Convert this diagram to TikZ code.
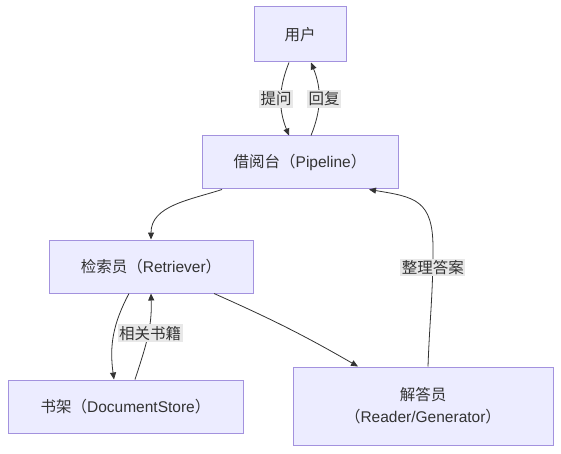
\documentclass[tikz,border=0pt]{standalone}
\usepackage{fontspec}
\setmainfont{Liberation Sans}
\newfontfamily\cjkf{Noto Sans CJK SC}
\usetikzlibrary{arrows.meta}
\definecolor{boxfill}{HTML}{ECECFF}
\definecolor{boxline}{HTML}{A392DE}
\definecolor{edgecol}{HTML}{333333}
\definecolor{lblfill}{HTML}{E8E8E8}
\tikzset{
  box/.style={draw=boxline, fill=boxfill, line width=1pt, rectangle, inner sep=0pt,
    font=\fontsize{15.5}{20}\selectfont, text=edgecol, align=center},
  edge/.style={draw=edgecol, line width=0.8pt, -{Triangle[length=7pt,width=6pt]}},
  lbl/.style={fill=lblfill, inner sep=1.5pt, font=\fontsize{15.5}{18}\selectfont\cjkf, text=edgecol}
}
\begin{document}
\begin{tikzpicture}[x=1pt,y=1pt]
\useasboundingbox (0,0) rectangle (561,-454);
\node[box, minimum width=92, minimum height=55] (u) at (300,-34.5) {{\cjkf 用户}};
\node[box, minimum width=196, minimum height=53] (p) at (300,-162.5) {{\cjkf 借阅台（}Pipeline{\cjkf ）}};
\node[box, minimum width=204, minimum height=53] (r) at (151,-266.5) {{\cjkf 检索员（}Retriever{\cjkf ）}};
\node[box, minimum width=235, minimum height=53] (s) at (125.5,-406.5) {{\cjkf 书架（}DocumentStore{\cjkf ）}};
\node[box, minimum width=260, minimum height=78] (g) at (423,-406) {{\cjkf 解答员}\\[2pt]{\cjkf （}Reader/Generator{\cjkf ）}};
\coordinate (bend) at (433,-248);

\draw[edge] ([xshift=-11pt]u.south) to[out=-112,in=112]
  node[lbl, pos=0.5, xshift=-5pt] {提问} ([xshift=-11pt]p.north);
\draw[edge] ([xshift=11pt]p.north) to[out=68,in=-68]
  node[lbl, pos=0.5, xshift=5pt] {回复} ([xshift=11pt]u.south);
\draw[edge] ([xshift=-78pt]p.south) to[out=-162,in=90] (r.north);
\draw[edge] ([xshift=-22pt]r.south) to[out=-118,in=98] ([xshift=-11.5pt]s.north);
\draw[edge] ([xshift=9.5pt]s.north) to[out=72,in=-88]
  node[lbl, pos=0.55, xshift=2pt] {相关书籍} (r.north |- r.south);
\draw[edge] ([xshift=63pt]r.south) to[out=-24,in=150] ([xshift=-65pt]g.north);
\draw[edge] ([xshift=5pt]g.north) to[out=88,in=-90]
  node[lbl, pos=0.85] {整理答案} (bend)
  .. controls (433,-200) and (415,-197) .. ([xshift=69pt]p.south);
\end{tikzpicture}
\end{document}
